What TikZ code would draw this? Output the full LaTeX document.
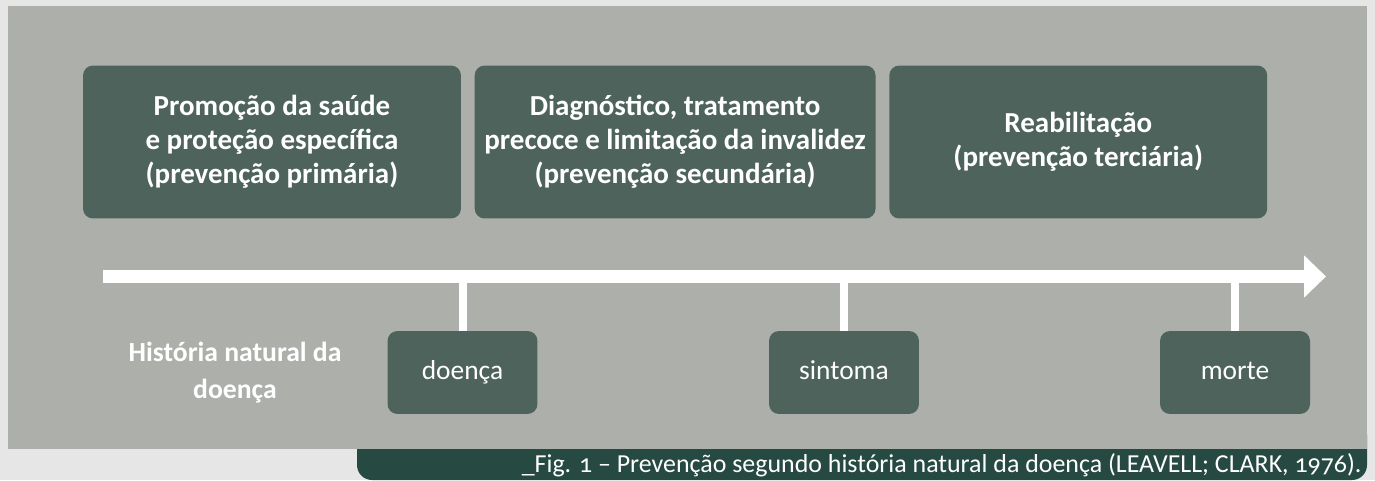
\documentclass[tikz,border=0pt]{standalone}
\usepackage{fontspec}
\setmainfont{Carlito}[Numbers=OldStyle]
\usepackage{tikz}
\usetikzlibrary{arrows.meta,positioning}
\definecolor{fundo}{HTML}{E6E6E6}
\definecolor{painel}{HTML}{ADAFAB}
\definecolor{caixa}{HTML}{4D635C}
\definecolor{legenda}{HTML}{264A42}
\tikzstyle{etapa} = [fill=caixa, text=white, rounded corners=0.2cm, inner sep=0pt, minimum width=7.56cm, minimum height=3.06cm, align=center, font=\bfseries\fontsize{16.5pt}{19.4pt}\selectfont]
\tikzstyle{marco} = [fill=caixa, text=white, rounded corners=0.2cm, inner sep=0pt, minimum width=3.0cm, minimum height=1.66cm, text height=0.95em, text depth=0.2em, font=\fontsize{15.6pt}{18pt}\selectfont]
\tikzstyle{haste} = [draw=white, line width=0.16cm]
\tikzstyle{eixo} = [draw=white, line width=0.26cm, -{Triangle[length=0.44cm, width=0.82cm]}]
\begin{document}
\begin{tikzpicture}[x=0.02cm, y=-0.02cm]
	\useasboundingbox (0,0) rectangle (1375,480);
	\fill[fundo] (0,0) rectangle (1375,480);
	\fill[legenda, rounded corners=0.3cm] (357,420) rectangle (1367,480);
	\fill[painel] (8,6) rectangle (1367,449);
	\node[etapa] (primaria) at (272,142) {Promoção da saúde\\e proteção específica\\(prevenção primária)};
	\node[etapa, minimum width=8.02cm, right=0.26cm of primaria] (secundaria) {Diagnóstico, tratamento\\precoce e limitação da invalidez\\(prevenção secundária)};
	\node[etapa, right=0.26cm of secundaria] (terciaria) {Reabilitação\\(prevenção terciária)};
	\coordinate (inicio) at (103,276.5);
	\coordinate (fim) at (1326,276.5);
	\node[marco] (doenca) at (462.5,372.5) {doença};
	\node[marco] (sintoma) at (844,372.5) {sintoma};
	\node[marco] (morte) at (1235,372.5) {morte};
	\draw[haste] (doenca.north) -- (doenca.north |- inicio);
	\draw[haste] (sintoma.north) -- (sintoma.north |- inicio);
	\draw[haste] (morte.north) -- (morte.north |- inicio);
	\draw[eixo] (inicio) -- (fim);
	\node[text=white, align=center, font=\bfseries\fontsize{15.75pt}{21pt}\selectfont] (historia) at (235,373) {História natural da\\doença};
	\node[text=white, anchor=east, inner sep=0pt, font=\fontsize{14.75pt}{17pt}\selectfont] (fig) at (1362,465) {\_Fig. 1 -- Prevenção segundo história natural da doença (LEAVELL; CLARK, 1976).};
\end{tikzpicture}
\end{document}
